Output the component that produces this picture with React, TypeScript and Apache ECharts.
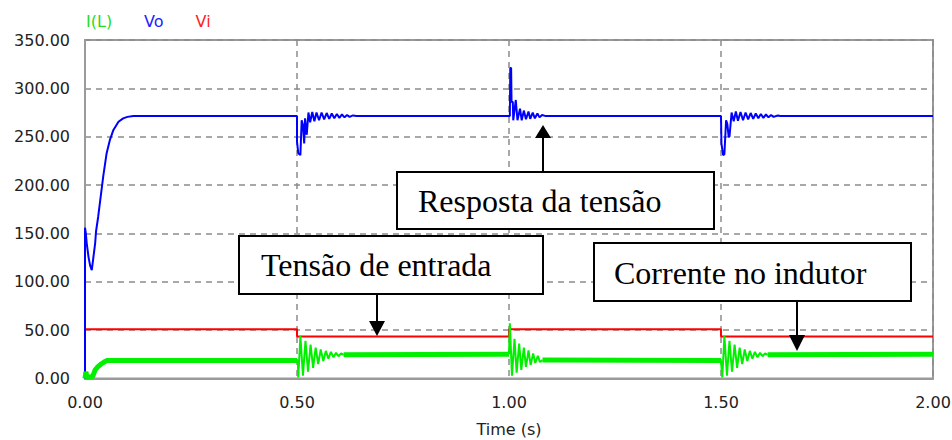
import React, { useEffect, useRef } from "react";
import * as echarts from "echarts";

// ---- data (time in s, value) ----
const seriesNames = ["I(L)", "Vo", "Vi"];
const xTicks = [0, 0.5, 1.0, 1.5, 2.0];
const yTicks = [0, 50, 100, 150, 200, 250, 300, 350];

const viData = [
  [0, 51], [0.5, 51], [0.5, 43.5], [1.0, 43.5], [1.0, 51], [1.5, 51], [1.5, 43.5], [2.0, 43.5],
];

const voStartup = [
  [0, 0], [0, 156], [0.002, 150], [0.004, 140], [0.0085, 125], [0.012, 117], [0.016, 112],
  [0.02, 126], [0.024, 140], [0.026, 152], [0.031, 167], [0.035, 181], [0.043, 209],
  [0.051, 233], [0.059, 247], [0.067, 257], [0.079, 265.5], [0.09, 269], [0.1, 270.5],
  [0.114, 271.5], [0.5, 271.5],
];
const voStep1 = [
  [0.5, 245], [0.503, 233], [0.508, 231], [0.511, 267], [0.514, 262], [0.517, 243],
  [0.519, 269], [0.523, 252], [0.527, 275], [0.531, 265], [0.536, 275.5], [0.541, 266],
  [0.546, 275], [0.552, 267], [0.558, 275], [0.564, 268], [0.57, 274.5], [0.576, 268.5],
  [0.582, 274], [0.588, 269], [0.594, 273.5], [0.6, 269.5], [0.606, 273], [0.612, 270],
  [0.618, 272.5], [0.624, 270.5], [0.632, 272], [0.64, 271.5], [1.0, 271.5],
];
const voStep2 = [
  [1.002, 271.5], [1.003, 321], [1.005, 321], [1.006, 286], [1.009, 286], [1.01, 267],
  [1.016, 288], [1.02, 267], [1.026, 279], [1.03, 267], [1.035, 277], [1.04, 268],
  [1.046, 276], [1.05, 268.5], [1.056, 275], [1.061, 269], [1.067, 274], [1.072, 270],
  [1.078, 272.5], [1.085, 271.5], [1.5, 271.5],
];
const voStep3 = [
  [1.501, 243], [1.505, 231], [1.508, 232], [1.512, 267], [1.515, 263], [1.518, 250],
  [1.52, 250], [1.525, 275], [1.53, 266], [1.535, 276], [1.54, 266.5], [1.546, 275.5],
  [1.552, 267], [1.558, 275], [1.564, 268], [1.57, 274.5], [1.576, 268.5], [1.582, 274],
  [1.588, 269], [1.594, 273.5], [1.6, 269.5], [1.606, 273], [1.612, 270], [1.618, 272.5],
  [1.624, 270.5], [1.634, 272], [1.64, 271.5], [2.0, 271.5],
];

// inductor current: settled (ripple band) segments
const ilSteady0 = [
  [0, 0], [0.002, 7], [0.005, 1], [0.018, 2], [0.024, 9], [0.03, 12], [0.038, 15],
  [0.045, 17], [0.052, 18.5], [0.5, 18.5],
];
const ilSteady1 = [[0.61, 24.5], [1.0, 25]];
const ilSteady2 = [[1.079, 19], [1.5, 18.5]];
const ilSteady3 = [[1.61, 24.5], [2.0, 25]];
// inductor current: ringing after each input step
const ilRing1 = [
  [0.5, 18.5], [0.502, 18.5], [0.503, 1], [0.508, 44], [0.514, 3], [0.52, 39], [0.526, 7],
  [0.532, 35], [0.538, 11], [0.544, 32], [0.55, 15], [0.556, 30], [0.562, 18], [0.568, 28.5],
  [0.574, 20.5], [0.58, 27.5], [0.586, 22], [0.592, 26.5], [0.598, 23], [0.604, 26],
  [0.61, 24.5],
];
const ilRing2 = [
  [1.0, 25], [1.001, 25], [1.002, 57], [1.007, 3], [1.013, 41], [1.018, 6], [1.024, 36],
  [1.029, 9], [1.035, 32], [1.04, 12], [1.046, 29], [1.051, 14], [1.057, 26], [1.062, 16],
  [1.068, 23.5], [1.073, 17], [1.079, 19],
];
const ilRing3 = [
  [1.5, 18.5], [1.501, 18.5], [1.503, 1], [1.508, 44], [1.514, 3], [1.52, 39], [1.526, 7],
  [1.532, 35], [1.538, 11], [1.544, 32], [1.55, 15], [1.556, 30], [1.562, 18], [1.568, 28.5],
  [1.574, 20.5], [1.58, 27.5], [1.586, 22], [1.592, 26.5], [1.598, 23], [1.604, 26],
  [1.61, 24.5],
];

const annotations = [
  { text: "Resposta da tensão" },
  { text: "Tensão de entrada" },
  { text: "Corrente no indutor" },
];

const colors = { il: "#00f000", vo: "#0000ff", vi: "#ff0000" };

export default function App() {
  const ref = useRef<HTMLDivElement>(null);
  useEffect(() => {
    if (!ref.current) return;
    const chart = echarts.init(ref.current, undefined, { renderer: "svg" });
    const voData = [...voStartup, ...voStep1, ...voStep2, ...voStep3];
    const gap = (t: number) => [t, "-"];
    const ilSteady = [
      ...ilSteady0, gap(0.55), ...ilSteady1, gap(1.04), ...ilSteady2, gap(1.55), ...ilSteady3,
    ];
    const ilRing = [...ilRing1, gap(0.8), ...ilRing2, gap(1.3), ...ilRing3];
    const serif = '"Liberation Serif", "Times New Roman", serif';
    const box = (x: number, y: number, w: number, h: number, text: string, tx: number, ty: number) => [
      { type: "rect", z: 100, shape: { x, y, width: w, height: h }, style: { fill: "#fff", stroke: "#000", lineWidth: 2 } },
      { type: "text", z: 101, x: tx, y: ty, style: { text, fill: "#000", fontSize: 32, fontFamily: serif, align: "left", verticalAlign: "middle" } },
    ];
    const arrow = (x: number, y1: number, y2: number, tip: number) => [
      { type: "line", z: 100, shape: { x1: x, y1, x2: x, y2 }, style: { stroke: "#000", lineWidth: 2 } },
      { type: "polygon", z: 100, shape: { points: [[x - 8, y2], [x + 8, y2], [x, tip]] }, style: { fill: "#000" } },
    ];
    const lineBase = { type: "line", showSymbol: false, symbol: "none", connectNulls: false };
    chart.setOption({
      animation: false,
      backgroundColor: "#fff",
      textStyle: { fontFamily: "DejaVu Sans" },
      legend: {
        left: 76,
        top: 8,
        icon: "none",
        itemWidth: 0,
        itemGap: 27,
        selectedMode: false,
        data: [
          { name: seriesNames[0], textStyle: { color: "#22dd22" } },
          { name: seriesNames[1], textStyle: { color: "#2222ff" } },
          { name: seriesNames[2], textStyle: { color: "#ff2222" } },
        ],
        textStyle: { fontSize: 16, fontFamily: "DejaVu Sans" },
      },
      grid: {
        left: 85, right: 19, top: 40, bottom: 61.5,
        outerBoundsMode: "none",
        containLabel: false,
        show: true, borderColor: "#9a9a9a", borderWidth: 2, backgroundColor: "#fff",
      },
      xAxis: {
        type: "value",
        min: xTicks[0], max: xTicks[xTicks.length - 1], interval: 0.5,
        name: "Time (s)", nameLocation: "middle", nameGap: 43,
        nameTextStyle: { fontSize: 16, color: "#222", fontFamily: "DejaVu Sans" },
        axisLine: { show: true, lineStyle: { color: "#9a9a9a", width: 2 } },
        axisTick: { show: false },
        axisLabel: { fontSize: 16, color: "#222", margin: 16, formatter: (v: number) => v.toFixed(2) },
        splitLine: { show: true, lineStyle: { type: [6, 5], color: "#8c8c8c", width: 1.5 } },
      },
      yAxis: {
        type: "value",
        min: yTicks[0], max: yTicks[yTicks.length - 1], interval: 50,
        axisLine: { show: true, lineStyle: { color: "#9a9a9a", width: 2 } },
        axisTick: { show: false },
        axisLabel: { fontSize: 16, color: "#222", margin: 15, formatter: (v: number) => v.toFixed(2) },
        splitLine: { show: true, lineStyle: { type: [6, 5], color: "#8c8c8c", width: 1.5 } },
      },
      series: [
        { ...lineBase, name: seriesNames[2], data: viData, lineStyle: { color: colors.vi, width: 2 }, itemStyle: { color: colors.vi }, z: 2 },
        { ...lineBase, name: seriesNames[1], data: voData, lineStyle: { color: colors.vo, width: 2 }, itemStyle: { color: colors.vo }, z: 3 },
        { ...lineBase, name: seriesNames[0], data: ilSteady, lineStyle: { color: colors.il, width: 5 }, itemStyle: { color: colors.il }, z: 4 },
        { ...lineBase, name: seriesNames[0], data: ilRing, lineStyle: { color: colors.il, width: 2 }, itemStyle: { color: colors.il }, z: 4 },
      ],
      graphic: [
        ...box(397, 172, 317, 57, annotations[0].text, 418, 201),
        ...arrow(543, 172, 138, 125),
        ...box(239, 236, 304, 58, annotations[1].text, 261, 264.5),
        ...arrow(377, 294, 321, 336),
        ...box(594, 243, 317, 58, annotations[2].text, 614, 272.5),
        ...arrow(797, 301, 335, 351),
      ],
    });
    return () => chart.dispose();
  }, []);
  return <div ref={ref} style={{ position: "absolute", left: 0, top: 0, width: 952, height: 440 }} />;
}
